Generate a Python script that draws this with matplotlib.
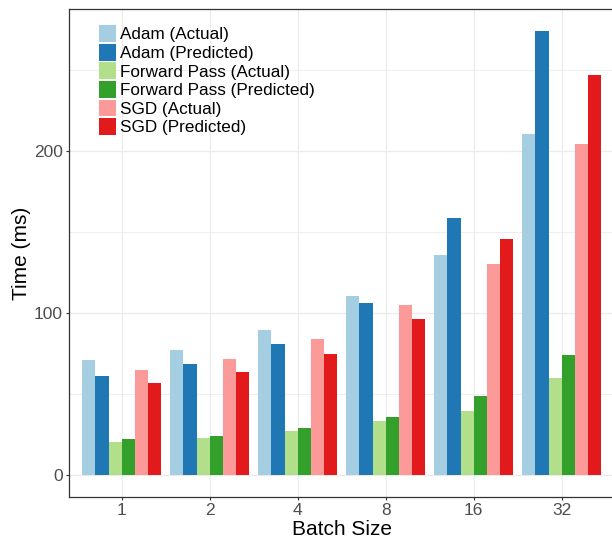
import numpy as np
import matplotlib
matplotlib.use("Agg")
import matplotlib.pyplot as plt
from matplotlib.ticker import MultipleLocator

plt.rcParams['font.family'] = ['Liberation Sans', 'DejaVu Sans']

# values
batch_sizes = ['1', '2', '4', '8', '16', '32']
adam_actual = [71.0, 77.2, 89.5, 110.5, 135.8, 210.5]
adam_pred = [61.1, 68.5, 80.9, 106.2, 158.6, 274.1]
fwd_actual = [20.4, 22.8, 27.2, 33.3, 39.5, 59.9]
fwd_pred = [22.2, 24.1, 29.0, 35.8, 48.8, 74.1]
sgd_actual = [64.8, 71.6, 84.0, 104.9, 130.2, 204.3]
sgd_pred = [56.8, 63.6, 74.7, 96.3, 145.7, 246.9]

series = [
    ('Adam (Actual)', adam_actual, '#A6CEE3'),
    ('Adam (Predicted)', adam_pred, '#1F78B4'),
    ('Forward Pass (Actual)', fwd_actual, '#B2DF8A'),
    ('Forward Pass (Predicted)', fwd_pred, '#33A02C'),
    ('SGD (Actual)', sgd_actual, '#FB9A99'),
    ('SGD (Predicted)', sgd_pred, '#E31A1C'),
]

W, H = 612, 539
fig = plt.figure(figsize=(W / 100, H / 100), dpi=100)
ax = fig.add_axes([69 / W, (H - 497) / H, (614.5 - 69) / W, (497 - 9) / H])

x = np.arange(1, len(batch_sizes) + 1)
bw = 0.9 / len(series)
for k, (name, vals, col) in enumerate(series):
    ax.bar(x + (k - 2.5) * bw, vals, width=bw, color=col, label=name,
           linewidth=0, zorder=3)

ax.set_xlim(0.4, 6.6)
ax.set_ylim(-13.7, 287.8)
ax.set_xticks(x)
ax.set_xticklabels(batch_sizes)
ax.yaxis.set_major_locator(MultipleLocator(100))
ax.yaxis.set_minor_locator(MultipleLocator(50))

ax.grid(which='major', color='#EBEBEB', linewidth=0.9, zorder=0)
ax.grid(which='minor', axis='y', color='#EBEBEB', linewidth=0.6, zorder=0)
ax.set_axisbelow(True)

for s in ax.spines.values():
    s.set_color('#333333')
    s.set_linewidth(0.9)

ax.tick_params(axis='both', which='major', length=2.5, width=0.8,
               color='#333333', labelcolor='#4D4D4D', labelsize=12.5, pad=2)
ax.tick_params(axis='y', which='minor', length=0)

ax.set_xlabel('Batch Size', fontsize=15, labelpad=1)
ax.set_ylabel('Time (ms)', fontsize=15, labelpad=2)

ax.legend(loc='upper left', bbox_to_anchor=(99 / W, (H - 25) / H),
          bbox_transform=fig.transFigure, frameon=False, fontsize=12.3,
          handlelength=1.0, handleheight=1.15, handletextpad=0.2,
          labelspacing=0.08, borderpad=0, borderaxespad=0)

fig.savefig('out.png', dpi=100)
